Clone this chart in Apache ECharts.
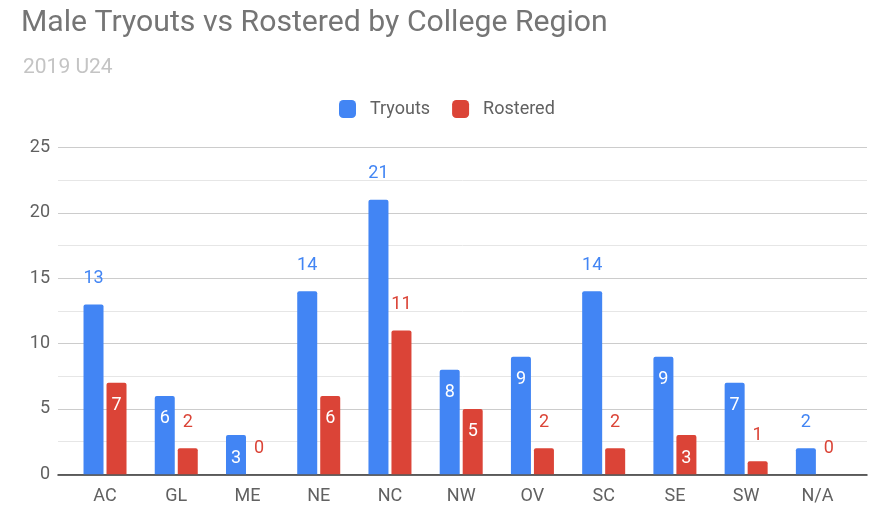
<!DOCTYPE html>
<html lang="en">
<head>
    <meta charset="UTF-8">
    <title>Male Tryouts vs Rostered by College Region</title>
    <script src="https://cdn.jsdelivr.net/npm/echarts@6/dist/echarts.min.js"></script>
    <style>
        html, body { margin: 0; padding: 0; background: #fff; }
        #main { width: 872px; height: 507px; }
    </style>
</head>
<body>
<div id="main"></div>
<script>
    // data
    var regions = ['AC', 'GL', 'ME', 'NE', 'NC', 'NW', 'OV', 'SC', 'SE', 'SW', 'N/A'];
    var tryouts = [13, 6, 3, 14, 21, 8, 9, 14, 9, 7, 2];
    var rostered = [7, 2, 0, 6, 11, 5, 2, 2, 3, 1, 0];
    var yTicks = [0, 5, 10, 15, 20, 25];

    var BLUE = '#4285F4';
    var RED = '#DB4437';
    var FONT = 'Roboto';

    // short and tall bars get the label above, the rest inside
    function barData(values, color) {
        return values.map(function (v) {
            var outside = v >= 10 || v <= 2;
            return {
                value: v,
                label: outside
                    ? {position: 'top', distance: 17, color: color}
                    : {position: 'insideTop', distance: 14, color: '#fff'}
            };
        });
    }

    var myChart = echarts.init(document.getElementById('main'));

    var option = {
        backgroundColor: '#fff',
        textStyle: {fontFamily: FONT},
        title: [
            {
                text: 'Male Tryouts vs Rostered by College Region',
                left: 16, top: 3,
                textStyle: {fontSize: 30.2, fontWeight: 'normal', color: '#757575', fontFamily: FONT}
            },
            {
                text: '2019 U24',
                left: 18, top: 52,
                textStyle: {fontSize: 21, fontWeight: 'normal', color: '#c4c4c4', fontFamily: FONT}
            }
        ],
        legend: {
            left: 334, top: 95,
            itemWidth: 17, itemHeight: 18, itemGap: 22,
            icon: 'roundRect',
            textStyle: {fontSize: 18, color: '#616161', fontFamily: FONT, padding: [0, 0, 0, 9]},
            data: ['Tryouts', 'Rostered']
        },
        grid: [
            {left: 58, right: 5, top: 147.6, bottom: 32.7},
            {left: 69.4, right: 19, top: 147.6, bottom: 32.7}
        ],
        xAxis: [
            {
                type: 'value', gridIndex: 0, min: 0, max: 1,
                axisLine: {show: true, onZero: false, lineStyle: {color: '#333', width: 1.5}},
                axisTick: {show: false}, axisLabel: {show: false}, splitLine: {show: false}
            },
            {
                type: 'category', gridIndex: 1, data: regions,
                axisLine: {show: false}, axisTick: {show: false},
                axisLabel: {color: '#616161', fontSize: 18, margin: 13, fontFamily: FONT}
            }
        ],
        yAxis: [
            {
                type: 'value', gridIndex: 0,
                min: yTicks[0], max: yTicks[yTicks.length - 1], interval: 5,
                axisLine: {show: false}, axisTick: {show: false},
                axisLabel: {color: '#616161', fontSize: 18, margin: 8, fontFamily: FONT},
                splitLine: {lineStyle: {color: '#cccccc', width: 1.2}},
                minorTick: {show: false, splitNumber: 2},
                minorSplitLine: {show: true, lineStyle: {color: '#e6e6e6', width: 1}}
            },
            {
                type: 'value', gridIndex: 1,
                min: yTicks[0], max: yTicks[yTicks.length - 1], show: false
            }
        ],
        series: [
            {
                name: 'Tryouts', type: 'bar', xAxisIndex: 1, yAxisIndex: 1,
                barWidth: 20, barGap: '15%',
                itemStyle: {color: BLUE, borderRadius: [2, 2, 0, 0]},
                label: {show: true, fontSize: 18, fontFamily: FONT},
                data: barData(tryouts, BLUE)
            },
            {
                name: 'Rostered', type: 'bar', xAxisIndex: 1, yAxisIndex: 1,
                barWidth: 20, barGap: '15%',
                itemStyle: {color: RED, borderRadius: [2, 2, 0, 0]},
                label: {show: true, fontSize: 18, fontFamily: FONT},
                data: barData(rostered, RED)
            }
        ]
    };

    myChart.setOption(option);
</script>
</body>
</html>
